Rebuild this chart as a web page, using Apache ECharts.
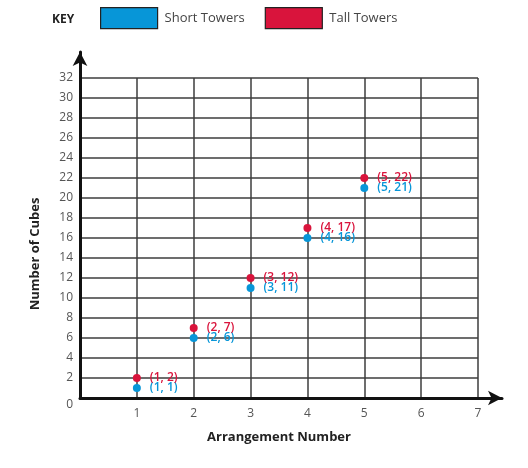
<!DOCTYPE html>
<html><head><meta charset="utf-8">
<script src="https://cdn.jsdelivr.net/npm/echarts@6/dist/echarts.min.js"></script>
<style>html,body{margin:0;padding:0;background:#fff}#c{width:528px;height:468px}</style>
</head><body><div id="c"></div>
<script>
const arrangement = [1, 2, 3, 4, 5];
const shortTowers = [1, 6, 11, 16, 21];
const tallTowers = [2, 7, 12, 17, 22];
const seriesNames = ['Short Towers', 'Tall Towers'];
const xTicks = [1, 2, 3, 4, 5, 6, 7];
const yMax = 32;

const FONT = '"Open Sans", "Noto Sans", sans-serif';
const BLUE = '#0796d8';
const RED = '#d9143c';

function pts(ys){ return arrangement.map((x,i)=>[x, ys[i]]); }

const chart = echarts.init(document.getElementById('c'), null, {renderer:'canvas'});
chart.setOption({
  animation: false,
  textStyle: {fontFamily: FONT},
  title: {text: 'KEY', left: 47, top: 9, textStyle: {fontFamily: FONT, fontSize: 12, fontWeight: 'bold', color: '#222'}},
  legend: {
    data: seriesNames, left: 100, top: 7, padding: 0, itemGap: 20,
    icon: 'rect', itemWidth: 57, itemHeight: 21,
    itemStyle: {borderColor: '#222', borderWidth: 1.2, opacity: 1},
    textStyle: {fontFamily: FONT, fontSize: 13, color: '#444', padding: [0,0,0,2]}
  },
  grid: [
    {left: 80, right: 50, top: 78, bottom: 70},
    {left: 80, right: 26, top: 52, bottom: 70}
  ],
  xAxis: [
    {gridIndex: 0, type: 'value', min: 0, max: xTicks[xTicks.length-1], interval: 1,
     axisLine: {show: false}, axisTick: {show: false},
     splitLine: {show: true, lineStyle: {color: '#3c3c3c', width: 1.5}},
     axisLabel: {show: true, margin: 10, fontFamily: FONT, fontSize: 12, color: '#555',
       formatter: v => xTicks.includes(v) ? String(v) : ''},
     name: 'Arrangement Number', nameLocation: 'middle', nameGap: 33,
     nameTextStyle: {fontFamily: FONT, fontSize: 13, fontWeight: 'bold', color: '#222'}},
    {gridIndex: 1, type: 'value', min: 0, max: 1, show: true,
     axisLine: {show: true, symbol: ['none','arrow'], symbolSize: [11, 14], lineStyle: {color: '#111', width: 3}},
     axisTick: {show: false}, axisLabel: {show: false}, splitLine: {show: false}}
  ],
  yAxis: [
    {gridIndex: 0, type: 'value', min: 0, max: yMax, interval: 2,
     axisLine: {show: false}, axisTick: {show: false},
     splitLine: {show: true, lineStyle: {color: '#3c3c3c', width: 1.5}},
     axisLabel: {show: true, margin: 7, fontFamily: FONT, fontSize: 12, color: '#555',
       formatter: v => v === 0 ? '{z|0}' : String(v),
       rich: {z: {padding: [14, 0, 0, 0], fontFamily: FONT, fontSize: 12, color: '#555'}}},
     name: 'Number of Cubes', nameLocation: 'middle', nameGap: 38, nameRotate: 90,
     nameTextStyle: {fontFamily: FONT, fontSize: 13, fontWeight: 'bold', color: '#222', padding: [0, 32, 0, 0]}},
    {gridIndex: 1, type: 'value', min: 0, max: 1, show: true,
     axisLine: {show: true, symbol: ['none','arrow'], symbolSize: [11, 14], lineStyle: {color: '#111', width: 3}},
     axisTick: {show: false}, axisLabel: {show: false}, splitLine: {show: false}}
  ],
  series: [
    {name: seriesNames[0], type: 'scatter', xAxisIndex: 0, yAxisIndex: 0,
     data: pts(shortTowers), symbol: 'circle', symbolSize: 8,
     itemStyle: {color: BLUE, opacity: 1},
     label: {show: true, position: 'right', distance: 9, color: BLUE, fontFamily: FONT, fontSize: 12, fontWeight: 600,
       formatter: p => '(' + p.value[0] + ', ' + p.value[1] + ')'}},
    {name: seriesNames[1], type: 'scatter', xAxisIndex: 0, yAxisIndex: 0,
     data: pts(tallTowers), symbol: 'circle', symbolSize: 8,
     itemStyle: {color: RED, opacity: 1},
     label: {show: true, position: 'right', distance: 9, color: RED, fontFamily: FONT, fontSize: 12, fontWeight: 600,
       formatter: p => '(' + p.value[0] + ', ' + p.value[1] + ')'}}
  ]
});
</script></body></html>
